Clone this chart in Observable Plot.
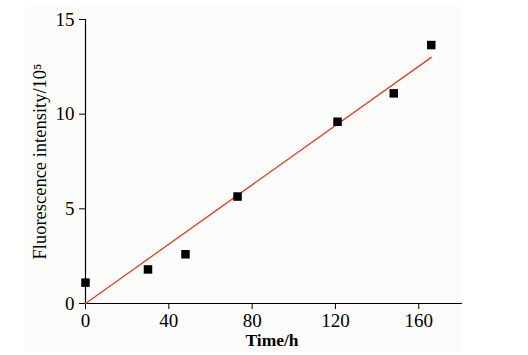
<!DOCTYPE html>
<html>
<head>
<meta charset="utf-8">
<script src="https://cdn.jsdelivr.net/npm/d3@7"></script>
<script src="https://cdn.jsdelivr.net/npm/@observablehq/plot@0.6"></script>
<style>
  html, body { margin: 0; padding: 0; background: #ffffff; }
  #wrap { position: relative; width: 528px; height: 355px; }
  #panel { position: absolute; left: 25px; top: 6px; width: 437px; height: 346px; background: #fcfcfa; }
  #chart { position: absolute; left: 0; top: 0; }
  #chart svg { background: transparent; }
</style>
</head>
<body>
<div id="wrap"><div id="panel"></div><div id="chart"></div></div>
<script>
const times = [0, 30, 48, 73, 121, 148, 166];
const intensity = [1.1, 1.8, 2.6, 5.65, 9.6, 11.1, 13.65];
const fitTimes = [0, 166];
const fitIntensity = [0, 13.0];
const xTicks = [0, 40, 80, 120, 160];
const yTicks = [0, 5, 10, 15];
const xLabel = "Time/h";
const yLabel = "Fluorescence intensity/10⁵";

const points = times.map((t, i) => ({t, v: intensity[i]}));
const fit = fitTimes.map((t, i) => ({t, v: fitIntensity[i]}));

const font = "'Liberation Serif', 'Times New Roman', serif";

const chart = Plot.plot({
  width: 528,
  height: 355,
  marginLeft: 85,
  marginRight: 66,
  marginTop: 19,
  marginBottom: 52,
  style: {fontFamily: font, background: "transparent", color: "#000"},
  x: {domain: [0, 181]},
  y: {domain: [0, 15]},
  marks: [
    Plot.axisX({ticks: xTicks, tickSize: 6, tickPadding: 4, fontSize: 19, label: null, tickFormat: d => d}),
    Plot.axisY({ticks: yTicks, tickSize: 6, tickPadding: 5, fontSize: 19, label: null, tickFormat: d => d}),
    Plot.ruleY([0], {stroke: "#000", strokeWidth: 1.2}),
    Plot.ruleX([0], {stroke: "#000", strokeWidth: 1.2}),
    Plot.line(fit, {x: "t", y: "v", stroke: "#ee3b2a", strokeWidth: 1.3}),
    Plot.dot(points, {x: "t", y: "v", symbol: "square", r: 4.8, fill: "#000", stroke: "none"}),
    Plot.text([xLabel], {frameAnchor: "bottom", dy: 37, dx: -2, text: d => d, fontSize: 17.5, fontWeight: "bold", lineAnchor: "middle", textAnchor: "middle"}),
    Plot.text([yLabel], {frameAnchor: "left", dx: -45, rotate: -90, text: d => d, fontSize: 18.5, lineAnchor: "middle", textAnchor: "middle"})
  ]
});
document.getElementById("chart").appendChild(chart);
</script>
</body>
</html>
